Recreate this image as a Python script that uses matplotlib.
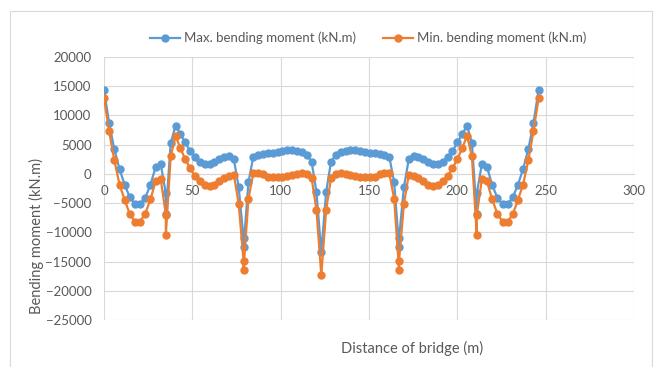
import matplotlib
matplotlib.use("Agg")
import matplotlib.pyplot as plt
from matplotlib.patches import Rectangle

plt.rcParams["font.family"] = ["Lato", "DejaVu Sans"]

# stations along the bridge (m); supports carry two values (left / right face)
distance = [
    0, 2.9, 5.8, 8.8, 11.7, 14.6, 17.5, 20.4, 23.3, 26.3, 29.2, 32.1, 35, 35,
    37.75, 40.5, 43.25, 46, 48.75, 51.5, 54.25, 57, 59.75, 62.5, 65.25, 68, 70.75, 73.5, 76.25, 79, 79,
    81.75, 84.5, 87.25, 90, 92.75, 95.5, 98.25, 101, 103.75, 106.5, 109.25, 112, 114.75, 117.5, 120.25, 123,
    125.75, 128.5, 131.25, 134, 136.75, 139.5, 142.25, 145, 147.75, 150.5, 153.25, 156, 158.75, 161.5, 164.25, 167, 167,
    169.75, 172.5, 175.25, 178, 180.75, 183.5, 186.25, 189, 191.75, 194.5, 197.25, 200, 202.75, 205.5, 208.25, 211, 211,
    213.9, 216.8, 219.7, 222.7, 225.6, 228.5, 231.4, 234.3, 237.2, 240.2, 243.1, 246,
]

max_moment = [
    14400, 8700, 4250, 800, -1850, -4000, -5150, -5150, -4150, -1850, 1150, 1700, -3350, -6850,
    5270, 8250, 6800, 5400, 3850, 2850, 2100, 1700, 1700, 2100, 2500, 2850, 3000, 2500, -2300, -11050, -12500,
    -1450, 2900, 3250, 3400, 3500, 3600, 3750, 3900, 4050, 4100, 4000, 3800, 3250, 2100, -3100, -13400,
    -3100, 2100, 3250, 3800, 4000, 4100, 4050, 3900, 3750, 3600, 3500, 3400, 3250, 2900, -1450, -12500, -11050,
    -2300, 2500, 3000, 2850, 2500, 2100, 1700, 1700, 2100, 2850, 3850, 5400, 6800, 8250, 5270, -6850, -3350,
    1700, 1150, -1850, -4150, -5150, -5150, -4000, -1850, 800, 4250, 8700, 14400,
]

min_moment = [
    12950, 7300, 2400, -1850, -4450, -6900, -8150, -8150, -6850, -4350, -1300, -900, -7000, -10500,
    2980, 6500, 4400, 2500, 950, -350, -1300, -1900, -2050, -1900, -1300, -750, -350, -150, -5150, -14900, -16400,
    -4300, 100, 150, -100, -450, -550, -550, -450, -350, -150, 0, 100, 0, -700, -6150, -17300,
    -6150, -700, 0, 100, 0, -150, -350, -450, -550, -550, -450, -100, 150, 100, -4300, -16400, -14900,
    -5150, -150, -350, -750, -1300, -1900, -2050, -1900, -1300, -350, 950, 2500, 4400, 6500, 2980, -10500, -7000,
    -900, -1300, -4350, -6850, -8150, -8150, -6900, -4450, -1850, 2400, 7300, 12950,
]

x_ticks = [0, 50, 100, 150, 200, 250, 300]
y_ticks = [-25000, -20000, -15000, -10000, -5000, 0, 5000, 10000, 15000, 20000]

W, H = 665, 367
fig = plt.figure(figsize=(W / 100, H / 100), dpi=100)

# chart frame
fig.patches.append(Rectangle((10 / W, -0.05), (652 - 10) / W, 1.05 - 11 / H,
                             transform=fig.transFigure, fill=False,
                             edgecolor="#D9D9D9", linewidth=0.8))

left, right, top, bottom = 104, 634, 57, 320
ax = fig.add_axes([left / W, 1 - bottom / H, (right - left) / W, (bottom - top) / H])

grid_col = "#D9D9D9"
text_col = "#595959"

ax.plot(distance, max_moment, color="#5B9BD5", lw=1.6, marker="o", ms=5,
        label="Max. bending moment (kN.m)", zorder=3)
ax.plot(distance, min_moment, color="#ED7D31", lw=1.6, marker="o", ms=5,
        label="Min. bending moment (kN.m)", zorder=4)

ax.set_xlim(0, 300)
ax.set_ylim(-25000, 20000)
ax.set_xticks(x_ticks)
ax.set_yticks(y_ticks)
ax.grid(True, color=grid_col, lw=0.8, zorder=0)
ax.set_axisbelow(True)

for side in ("top", "right", "left"):
    ax.spines[side].set_visible(False)
ax.spines["bottom"].set_position(("data", 0))
ax.spines["bottom"].set_color(grid_col)
ax.spines["bottom"].set_linewidth(0.8)

ax.tick_params(axis="both", length=0, labelsize=9.5, labelcolor=text_col)
ax.tick_params(axis="x", pad=8)
ax.tick_params(axis="y", pad=9)

fig.text(36 / W, 1 - 236 / H, "Bending moment (kN.m)", rotation=90,
         ha="center", va="center", fontsize=10.5, color=text_col)
fig.text(412 / W, 1 - 348 / H, "Distance of bridge (m)",
         ha="center", va="center", fontsize=10.5, color=text_col)

leg = fig.legend(loc="center", bbox_to_anchor=(368 / W, 1 - 38 / H), ncol=2,
                 frameon=False, fontsize=9.5, handlelength=2.3,
                 handletextpad=0.3, columnspacing=2.0)
for t in leg.get_texts():
    t.set_color(text_col)

fig.savefig("out.png", dpi=100)
